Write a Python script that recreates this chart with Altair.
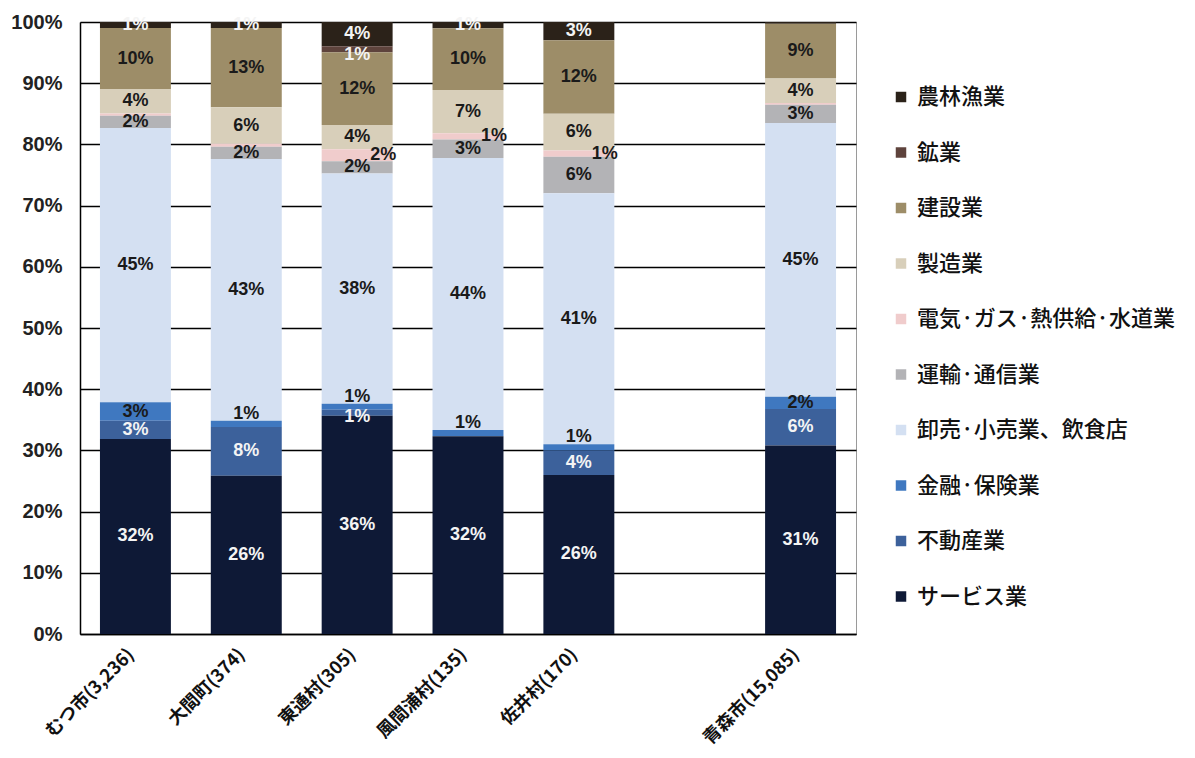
import altair as alt
import pandas as pd

# ---- data ----
x_domain = ["むつ市(3,236)", "大間町(374)", "東通村(305)", "風間浦村(135)", "佐井村(170)", " ", "青森市(15,085)"]
areas = ["むつ市(3,236)", "大間町(374)", "東通村(305)", "風間浦村(135)", "佐井村(170)", "青森市(15,085)"]

# legend order (top -> bottom); stacking is the reverse (サービス業 at the bottom)
industries = ["農林漁業", "鉱業", "建設業", "製造業", "電気·ガス·熱供給·水道業",
              "運輸·通信業", "卸売·小売業、飲食店", "金融·保険業", "不動産業", "サービス業"]
colors = ["#2b2219", "#5e433c", "#9d8d68", "#d8cfba", "#f0cccc",
          "#b3b3b6", "#d4e0f2", "#3f78c0", "#3c619b", "#0e1936"]

agri = [1, 1, 4, 1, 3, 0.3]
mining = [0, 0, 1, 0, 0, 0]
construction = [10, 13, 12, 10, 12, 9]
manufacturing = [4, 6, 4, 7, 6, 4]
utilities = [0.4, 0.5, 2, 1, 1, 0.3]
transport = [2, 2, 2, 3, 6, 3]
trade = [45, 43, 38, 44, 41, 45]
finance = [3, 1, 1, 1, 1, 2]
realestate = [3, 8, 1, 0, 4, 6]
services = [32, 26, 36, 32, 26, 31]

series = [agri, mining, construction, manufacturing, utilities,
          transport, trade, finance, realestate, services]

rows = []
for i, (name, vals) in enumerate(zip(industries, series)):
    for a, v in zip(areas, vals):
        rows.append({"area": a, "industry": name, "value": v, "order": len(industries) - 1 - i})
df = pd.DataFrame(rows)

MINING = "鉱業"
UTIL = "電気·ガス·熱供給·水道業"
FIN = "金融·保険業"
REAL = "不動産業"
WHITE = ["サービス業", "農林漁業"]

base = (
    alt.Chart(df)
    .transform_stack(stack="value", groupby=["area"], sort=[alt.SortField("order", "ascending")],
                     as_=["y0", "y1"], offset="normalize")
    .transform_calculate(mid="(datum.y0 + datum.y1) / 2", label="datum.value + '%'")
)

x_enc = alt.X("area:N",
              scale=alt.Scale(domain=x_domain, paddingInner=0.36, paddingOuter=0.18),
              axis=alt.Axis(title=None, labelAngle=-45, labelFontSize=18, labelFontWeight="bold",
                            labelFont="Noto Sans CJK JP", labelColor="#111", labelPadding=18,
                            labelOffset=-4, ticks=False, domainColor="#000", domainWidth=1.5,
                            labelAlign="right", labelBaseline="middle"))

y_scale = alt.Scale(domain=[0, 1], nice=False)

bars = base.mark_bar().encode(
    x=x_enc,
    y=alt.Y("y0:Q", scale=y_scale,
            axis=alt.Axis(title=None, format="%", values=[i / 10 for i in range(11)],
                          labelFontSize=20, labelFontWeight="bold", labelFont="Liberation Sans",
                          labelColor="#222", ticks=False, labelPadding=18,
                          grid=True, gridColor="#000", gridWidth=1.5,
                          domainColor="#000", domainWidth=1.5)),
    y2="y1:Q",
    color=alt.Color("industry:N", scale=alt.Scale(domain=industries, range=colors),
                    legend=alt.Legend(title=None, orient="none", legendX=810, legendY=64,
                                      symbolType="square", symbolSize=110, symbolStrokeWidth=0,
                                      labelFont="Noto Sans CJK JP", labelFontSize=22,
                                      labelFontWeight=500, labelColor="#111", labelOffset=5,
                                      rowPadding=33.5, labelLimit=400)),
)

txt_kw = dict(font="Liberation Sans", fontSize=18, fontWeight="bold")


def label_layer(filt, color, dx=0, dy=0):
    return base.transform_filter(filt).transform_filter("datum.value >= 1").mark_text(
        color=color, dx=dx, dy=dy, **txt_kw).encode(
        x=alt.X("area:N"), y=alt.Y("mid:Q"), text="label:N")


def cat_value(cat, small):
    val = alt.FieldLTPredicate(field="value", lt=2) if small else alt.FieldGTEPredicate(field="value", gte=2)
    return alt.LogicalAndPredicate(**{"and": [alt.FieldEqualPredicate(field="industry", equal=cat), val]})


white_txt = label_layer(alt.FieldOneOfPredicate(field="industry", oneOf=WHITE), "#f4f4f4")
real_big = label_layer(cat_value(REAL, False), "#f4f4f4")
real_small = label_layer(cat_value(REAL, True), "#f4f4f4", dy=4)
mining_txt = label_layer(alt.FieldEqualPredicate(field="industry", equal=MINING), "#f4f4f4", dy=6)
black_txt = label_layer(
    alt.FieldOneOfPredicate(field="industry", oneOf=WHITE + [REAL, MINING, UTIL, FIN]).__invert__(),
    "#1a1a1a")
fin_big = label_layer(cat_value(FIN, False), "#1a1a1a")
fin_small = label_layer(cat_value(FIN, True), "#1a1a1a", dy=-10)
util_txt = label_layer(alt.FieldEqualPredicate(field="industry", equal=UTIL), "#1a1a1a", dx=26)

chart = (
    alt.layer(bars, white_txt, real_big, real_small, mining_txt, black_txt, fin_big, fin_small, util_txt)
    .properties(width=776, height=612,
                padding={"left": 72, "top": 14, "right": 330, "bottom": 116},
                autosize=alt.AutoSizeParams(type="none"))
    .configure_view(stroke="#9a9a9a", strokeWidth=1)
)

chart.save("out.html", embed_options={"renderer": "svg", "actions": False})
